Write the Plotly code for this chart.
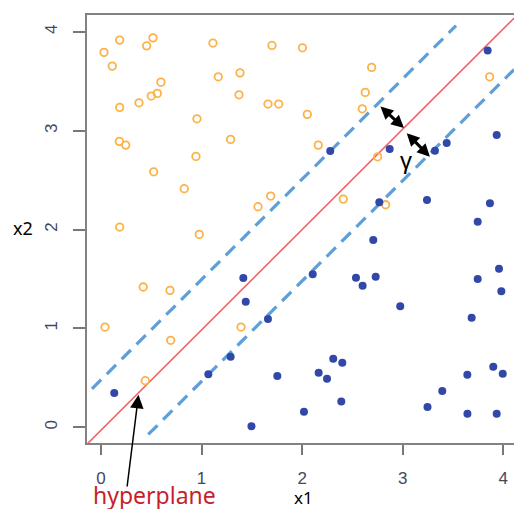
import plotly.graph_objects as go

# ---- data ----
orange_x = [0.030, 0.186, 0.112, 0.454, 0.517, 1.113, 1.700, 2.003, 1.166, 1.382,
            0.596, 0.500, 0.560, 0.378, 0.186, 1.372, 1.660, 1.767, 0.954, 0.182,
            0.246, 1.289, 0.944, 0.524, 0.828, 1.561, 1.687, 0.186, 2.691, 2.627,
            2.598, 2.051, 2.160, 2.751, 2.409, 2.830, 3.864, 0.977, 0.420, 0.686,
            0.040, 0.693, 1.392, 0.440]
orange_y = [3.792, 3.916, 3.653, 3.858, 3.939, 3.886, 3.862, 3.838, 3.545, 3.585,
            3.491, 3.350, 3.377, 3.282, 3.236, 3.363, 3.269, 3.269, 3.120, 2.892,
            2.854, 2.912, 2.740, 2.584, 2.413, 2.231, 2.339, 2.025, 3.640, 3.387,
            3.221, 3.165, 2.854, 2.736, 2.308, 2.251, 3.545, 1.951, 1.419, 1.385,
            1.014, 0.880, 1.014, 0.471]

blue_x = [3.844, 2.279, 2.870, 3.320, 3.437, 3.934, 2.767, 3.241, 3.867, 3.745,
          1.415, 1.439, 1.660, 1.289, 1.067, 1.753, 0.132, 1.496, 2.018, 2.707,
          2.105, 2.535, 2.601, 2.731, 2.975, 3.745, 3.957, 3.980, 3.685, 2.309,
          2.399, 2.164, 2.247, 2.389, 3.393, 3.246, 3.642, 3.900, 3.994, 3.643,
          3.934]
blue_y = [3.812, 2.794, 2.814, 2.797, 2.875, 2.956, 2.275, 2.298, 2.265, 2.078,
          1.510, 1.270, 1.095, 0.714, 0.536, 0.519, 0.347, 0.011, 0.158, 1.894,
          1.547, 1.513, 1.432, 1.523, 1.223, 1.499, 1.604, 1.375, 1.108, 0.694,
          0.653, 0.552, 0.491, 0.261, 0.367, 0.205, 0.532, 0.613, 0.542, 0.138,
          0.138]

# separating hyperplane and margins: y = slope * x + intercept
slope = 1.015
hyper_intercept = -0.03
upper_intercept = 0.48
lower_intercept = -0.55
hyper_xr = [-0.139, 4.106]
upper_xr = [-0.09, 3.53]
lower_xr = [0.47, 4.106]

tick_vals = [0, 1, 2, 3, 4]
tick_text = ["0", "1", "2", "3", "4"]

x_range = [-0.139, 4.106]
y_range = [-0.159, 4.170]

# ---- figure ----
def line_y(xs, b):
    return [slope * v + b for v in xs]

fig = go.Figure()
fig.add_trace(go.Scatter(x=hyper_xr, y=line_y(hyper_xr, hyper_intercept), mode="lines",
                         line=dict(color="rgb(240,100,100)", width=1.6), hoverinfo="skip"))
fig.add_trace(go.Scatter(x=upper_xr, y=line_y(upper_xr, upper_intercept), mode="lines",
                         line=dict(color="rgb(95,158,215)", width=3.2, dash="13px,8px"), hoverinfo="skip"))
fig.add_trace(go.Scatter(x=lower_xr, y=line_y(lower_xr, lower_intercept), mode="lines",
                         line=dict(color="rgb(95,158,215)", width=3.2, dash="13px,8px"), hoverinfo="skip"))
fig.add_trace(go.Scatter(x=orange_x, y=orange_y, mode="markers",
                         marker=dict(symbol="circle-open", size=7.5, color="rgb(252,178,70)",
                                     line=dict(width=1.8, color="rgb(252,178,70)"))))
fig.add_trace(go.Scatter(x=blue_x, y=blue_y, mode="markers",
                         marker=dict(symbol="circle", size=8, color="rgb(50,72,168)",
                                     line=dict(width=0))))

ann = []
# margin arrows (double headed)
ann.append(dict(x=3.012, y=3.026, ax=2.763, ay=3.259, xref="x", yref="y", axref="x", ayref="y",
                text="", showarrow=True, arrowhead=2, arrowsize=0.85, arrowwidth=3,
                arrowside="end+start", arrowcolor="black"))
ann.append(dict(x=3.270, y=2.736, ax=3.025, ay=2.989, xref="x", yref="y", axref="x", ayref="y",
                text="", showarrow=True, arrowhead=2, arrowsize=0.85, arrowwidth=3,
                arrowside="end+start", arrowcolor="black"))
ann.append(dict(x=3.03, y=2.70, xref="x", yref="y", text="γ", showarrow=False,
                font=dict(family="Liberation Sans", size=24, color="black")))
# hyperplane pointer
ann.append(dict(x=0.373, y=0.328, ax=0.258, ay=-0.614, xref="x", yref="y", axref="x", ayref="y",
                text="", showarrow=True, arrowhead=2, arrowsize=1.8, arrowwidth=1.5,
                arrowcolor="black"))
ann.append(dict(x=0.157, y=-0.1205, xref="paper", yref="paper", xanchor="center", yanchor="middle",
                text="hyperplane", showarrow=False,
                font=dict(family="Noto Sans", size=23, color="rgb(200,30,42)")))
ann.append(dict(x=0.508, y=-0.1285, xref="paper", yref="paper", xanchor="center", yanchor="middle",
                text="x1", showarrow=False,
                font=dict(family="Noto Sans", size=17, color="black")))
ann.append(dict(x=-0.151, y=0.502, xref="paper", yref="paper", xanchor="center", yanchor="middle",
                text="x2", showarrow=False,
                font=dict(family="Noto Sans", size=18, color="black")))

axis_common = dict(
    tickvals=tick_vals, ticktext=tick_text, ticks="outside",
    tickcolor="rgb(120,120,120)", tickwidth=1.6, showgrid=False, zeroline=False,
    showline=True, linecolor="rgb(130,130,130)", linewidth=2,
    tickfont=dict(family="Liberation Sans", size=17, color="rgb(70,72,90)"),
)

fig.update_layout(
    width=514, height=509,
    margin=dict(l=87, r=0, t=15, b=66),
    paper_bgcolor="white", plot_bgcolor="white",
    showlegend=False,
    annotations=ann,
    xaxis=dict(range=x_range, ticklen=10, mirror=True, ticklabelstandoff=9, automargin=False,
               **axis_common),
    yaxis=dict(range=y_range, ticklen=12, mirror=False, tickangle=-90, ticklabelstandoff=9,
               automargin=False, **axis_common),
)

fig.write_html("out.html", config={"displayModeBar": False},
               post_script="document.body.style.margin='0';document.body.style.overflow='hidden';")
